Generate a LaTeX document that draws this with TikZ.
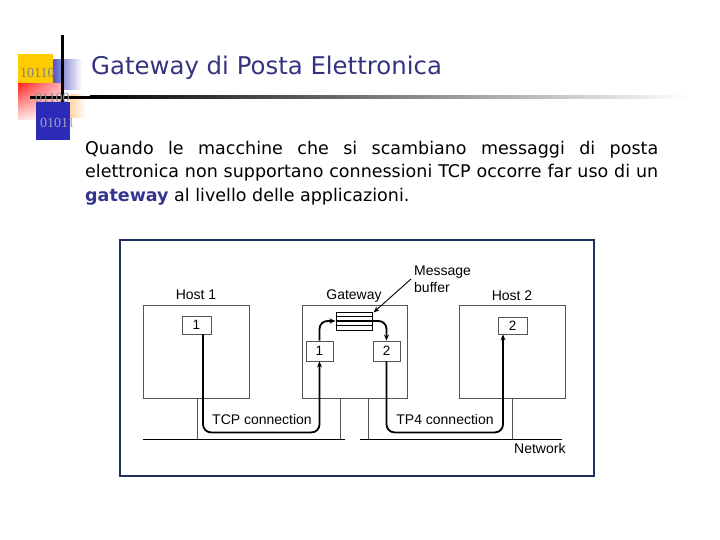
\documentclass[tikz,border=0pt]{standalone}
\usepackage{fontspec}
\setmainfont{DejaVu Sans}
\newfontfamily\diagfont{Liberation Sans}
\newfontfamily\logofont{Liberation Serif}
\usetikzlibrary{arrows.meta,shadings}
\definecolor{titleblue}{HTML}{333380}
\definecolor{boldblue}{HTML}{333390}
\definecolor{framecol}{HTML}{1F3060}
\definecolor{logoyellow}{HTML}{FFCC00}
\definecolor{logoblue}{HTML}{2B2BB8}
\definecolor{boxgray}{HTML}{555555}
\tikzset{
  hostbox/.style={draw=boxgray, line width=0.8pt, minimum width=106pt, minimum height=93pt, inner sep=0pt},
  smallbox/.style={draw=boxgray, line width=0.8pt, fill=white, inner sep=0pt, font=\diagfont\fontsize{13.5pt}{15pt}\selectfont},
  conn/.style={line width=1.8pt, rounded corners=8pt, -{Stealth[length=6pt,width=5pt]}},
  plainline/.style={draw=boxgray, line width=0.9pt},
  lbl/.style={font=\diagfont\fontsize{14pt}{15pt}\selectfont, inner sep=0pt},
}
\begin{document}
\begin{tikzpicture}[x=1pt,y=-1pt]
\useasboundingbox (0,0) rectangle (720,540);
% ---------- logo ----------
\fill[logoyellow] (18,54) rectangle (53,84);
\shade[left color=logoblue!80, right color=white] (53,60) rectangle (82,90);
\shade[upper left=red!85, upper right=red!30!white, lower left=red!10!white, lower right=white] (18,84) rectangle (62,120);
\shade[left color=orange!35, right color=white] (70,95) rectangle (86,118);
\fill[black] (60.5,35) rectangle (63.5,118);
\fill[logoblue] (36,102) rectangle (70,140);
\fill[black] (30,96) rectangle (90,99);
\shade[left color=black, middle color=black!40, right color=white] (90,96) rectangle (690,99);
\node[anchor=base west, inner sep=0pt, text=black!50, font=\logofont\fontsize{14pt}{14pt}\selectfont] (l1) at (20,78) {10110};
\node[anchor=base west, inner sep=0pt, text=black!45, font=\logofont\fontsize{14pt}{14pt}\selectfont] (l2) at (35,103) {01100};
\node[anchor=base west, inner sep=0pt, text=blue!25!gray!60, font=\logofont\fontsize{14pt}{14pt}\selectfont] (l3) at (40,128) {01011};
% ---------- title ----------
\node[anchor=base west, inner sep=0pt, text=titleblue, font=\fontsize{24.4pt}{28pt}\selectfont] (title) at (91,75) {Gateway di Posta Elettronica};
% ---------- body ----------
\node[anchor=base west, inner sep=0pt, font=\fontsize{17.5pt}{21pt}\selectfont] (b1) at (85,155) {\makebox[573pt][s]{Quando le macchine che si scambiano messaggi di posta}};
\node[anchor=base west, inner sep=0pt, font=\fontsize{17.5pt}{21pt}\selectfont] (b2) at (85,178) {\makebox[573pt][s]{elettronica non supportano connessioni TCP occorre far uso di un}};
\node[anchor=base west, inner sep=0pt, font=\fontsize{17.5pt}{21pt}\selectfont] (b3) at (85,202) {\textcolor{boldblue}{\textbf{gateway}} al livello delle applicazioni.};
% ---------- figure frame ----------
\draw[framecol, line width=1.5pt, fill=white] (120,240) rectangle (594,476);
% hosts
\node[hostbox] (h1) at (196,351.5) {};
\node[hostbox, minimum width=105pt] (gw) at (354.5,351.5) {};
\node[hostbox] (h2) at (512,351.5) {};
\node[lbl] (h1l) at (196,295) {Host 1};
\node[lbl] (gwl) at (354,296) {Gateway};
\node[lbl] (h2l) at (512,296) {Host 2};
% inner boxes
\node[smallbox, minimum width=29pt, minimum height=18pt] (h1b) at (196.5,325) {1};
\node[smallbox, minimum width=27pt, minimum height=20pt] (g1) at (319.5,351) {1};
\node[smallbox, minimum width=27pt, minimum height=20pt] (g2) at (386.5,351) {2};
\node[smallbox, minimum width=29pt, minimum height=17pt] (h2b) at (512.5,325.5) {2};
% buffer
\node[draw=black, line width=1pt, fill=white, minimum width=36pt, minimum height=18pt, inner sep=0pt] (buf) at (354,321) {};
\foreach \yy in {316.5,321,325.5}{\draw[line width=1.2pt] (buf.west |- 0,\yy) -- (buf.east |- 0,\yy);}
% network
\coordinate (n1a) at (143,439);
\coordinate (n1b) at (345,439);
\coordinate (n2a) at (360,439);
\coordinate (n2b) at (562,439);
\draw[plainline, draw=black] (n1a) -- (n1b);
\draw[plainline, draw=black] (n2a) -- (n2b);
\draw[plainline] (h1.south -| 197,0) -- (197,439);
\draw[plainline] (gw.south -| 340,0) -- (340,439);
\draw[plainline] (gw.south -| 368,0) -- (368,439);
\draw[plainline] (h2.south -| 512,0) -- (512,439);
% connections
\draw[conn] ([xshift=6.5pt]h1b.south) -- ++(0,98) -| (g1.south);
\draw[conn] (g1.north) |- (buf.west);
\draw[conn] (buf.east) -| (g2.north);
\draw[conn] (g2.south) -- ++(0,71) -| ([xshift=-9.5pt]h2b.south);
% message buffer pointer
\coordinate (mb) at (411,279);
\draw[line width=0.9pt, -{Stealth[length=6pt,width=4.5pt]}] (mb) -- ([xshift=1pt,yshift=-1pt]buf.north east);
\node[lbl, anchor=west] (msg) at (414,272) {Message};
\node[lbl, anchor=west] (bufl) at (414,287) {buffer};
\node[lbl] (tcp) at (262,419) {TCP connection};
\node[lbl] (tp4) at (445,419) {TP4 connection};
\node[lbl, anchor=west] (net) at (514,448) {Network};
\end{tikzpicture}
\end{document}
